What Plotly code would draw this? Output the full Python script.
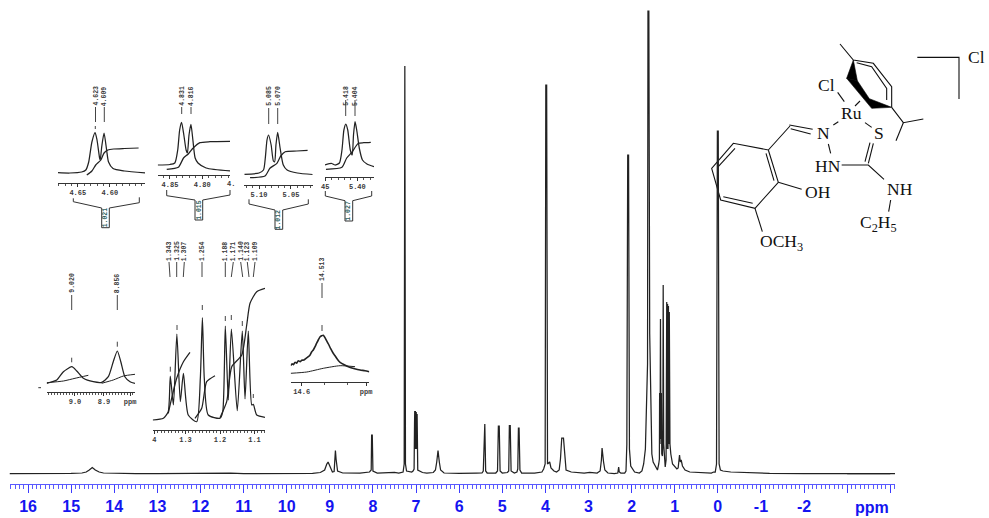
import plotly.graph_objects as go

# ---------- main spectrum (ppm, intensity) ----------
spec_ppm = [16.43,15.5,15.0,14.75,14.65,14.58,14.51,14.44,14.35,14.25,14.0,13.5,13.0,12.5,12.0,11.3,11.0,10.5,10.0,9.4,
 9.22,9.12,9.07,9.04,8.99,8.94,8.90,8.885,8.87,8.855,8.82,8.7,8.3,8.08,8.04,8.03,8.015,8.0,7.9,7.5,7.4,7.3,7.275,7.26,7.245,7.22,7.1,
 7.07,7.045,7.035,7.03,7.022,7.015,7.005,6.995,6.985,6.975,6.96,6.85,6.75,6.6,6.55,6.52,6.49,6.46,6.43,6.35,6.0,5.6,5.47,5.44,5.42,5.405,5.385,5.35,
 5.15,5.11,5.09,5.07,5.05,5.0,4.88,4.85,4.835,4.815,4.795,4.72,4.66,4.64,4.625,4.61,4.59,4.55,4.25,4.08,4.04,4.005,3.99,3.97,3.95,3.90,3.87,3.8,3.74,
 3.68,3.65,3.62,3.58,3.55,3.52,3.4,3.1,2.97,2.8,2.73,2.70,2.685,2.67,2.65,2.62,2.55,2.4,2.32,2.30,2.285,2.25,2.16,2.13,2.11,2.09,2.07,2.05,2.02,1.93,
 1.82,1.76,1.72,1.68,1.63,1.62,1.60,1.58,1.55,1.53,1.5,1.42,1.40,1.37,1.355,1.35,1.34,1.33,1.32,1.31,1.30,1.285,1.275,1.267,1.255,1.24,1.22,1.20,
 1.19,1.185,1.175,1.165,1.155,1.145,1.135,1.125,1.11,1.09,1.05,1.0,0.95,0.92,0.90,0.888,0.87,0.85,0.82,0.76,0.65,0.4,0.15,0.1,0.06,0.03,0.01,-0.01,
 -0.03,-0.06,-0.12,-0.3,-0.6,-1.2,-2.0,-3.0,-4.11]
spec_int = [10.5,10.3,10.7,11,12,14,16.5,14,12,11,10.6,10.4,10.5,10.7,10.4,10.8,10.4,10.5,10.4,10.6,
 11.5,14,20,22,17,12,12.5,25,33.5,25,13,11,10.8,12,14,49,49,13,11,11.5,11,12,20,418,20,13,12,
 13,15,60,73,35,73,35,72,35,70,14,11.5,11,11.5,14,22,33.5,22,14,11,10.6,10.9,11,13,60,60,13,11,
 11,13,58,58,13,11,11.5,13,58.5,58.5,13,11,12,15,56,56,14,11,11,12,15,20,399,399,20,22,16,13,12,
 14,25,46,46,25,14,12,11,11.5,11,13,24,36,28,22,14,11,10.5,11,17,12,11,11,13,40,329,329,35,18,12,
 11,13,20,35,120,473,473,150,60,30,22,16,14,20,25,91,40,165,45,91,30,28,40,199,40,22,17,24,
 120,182,35,180,35,178,40,172,40,30,20,18,15,16,22,29,22,24,18,14,12,11.5,11,12,12,20,353,353,
 20,14,13,12,11.5,10.6,10.5,10.5,10.5]

tick_values = [16,15,14,13,12,11,10,9,8,7,6,5,4,3,2,1,0,-1,-2]
tick_labels = ["16","15","14","13","12","11","10","9","8","7","6","5","4","3","2","1","0","-1","-2"]
unlabelled_ticks = [-3,-4]

# ---------- insets: curve and integral in ppm / intensity ----------
i1_ppm = [4.681,4.6625,4.644,4.6375,4.633,4.628,4.623,4.620,4.616,4.615,4.6125,4.609,4.605,4.602,4.595,4.577,4.545]
i1_int = [10.3,10,11,13,21,41,50.3,43,25,23,37,50,33,21,14.5,12,10]
i1_int_ppm = [4.636,4.628,4.622,4.614,4.609,4.603,4.594,4.577,4.555]
i1_int_val = [8,12,18,23,30,33,34,34.5,35]

i2_ppm = [4.869,4.85,4.8425,4.838,4.835,4.832,4.8285,4.825,4.823,4.8205,4.8175,4.8145,4.811,4.8066,4.794,4.757]
i2_int = [10,10.5,12,25,45,52.7,40,25,22,40,50.7,35,17,12,7,4]
i2_int_ppm = [4.855,4.837,4.829,4.8217,4.814,4.8036,4.788,4.757]
i2_int_val = [5.7,7.7,17,21,27,32.3,33.3,33.7]

i3_ppm = [5.123,5.10,5.093,5.09,5.0875,5.085,5.081,5.0775,5.0755,5.0735,5.0708,5.067,5.062,5.056,5.04,5.016]
i3_int = [10.4,11.7,14.7,27.7,44.7,49.7,39.7,23.7,23,39.7,52.4,36.7,19.7,14.7,11.7,10.2]
i3_int_ppm = [5.114,5.0906,5.083,5.072,5.066,5.059,5.041,5.024]
i3_int_val = [7,8.7,16.4,21.4,28.7,33,33.7,34.4]

i4_ppm = [5.4505,5.44,5.435,5.428,5.424,5.421,5.418,5.415,5.411,5.408,5.406,5.4036,5.401,5.397,5.392,5.385,5.374]
i4_int = [11.7,13.2,11.7,13.7,26.7,46.7,52.7,46.7,26.7,21.7,41.7,55,46.7,28.7,16.7,12.7,10]
i4_int_ppm = [5.449,5.424,5.4166,5.409,5.3985,5.39,5.379]
i4_int_val = [7.4,9.4,18.7,24,33.4,34,34.4]

i5_ppm = [9.0976,9.063,9.04,9.011,8.994,8.971,8.937,8.908,8.885,8.868,8.854,8.842,8.828,8.81,8.793]
i5_int = [8.4,11.7,20,25,20.7,13.4,10,9.4,15,30,40.7,30,15,10,8.4]
i5_a_ppm = [9.0976,9.04,9.0,8.954]
i5_a_val = [9,10.7,13.4,16.4]
i5_b_ppm = [8.908,8.868,8.833,8.793]
i5_b_val = [8.4,11.7,15.7,17.4]

i6_ppm = [1.395,1.364,1.35,1.344,1.335,1.325,1.315,1.306,1.292,1.2675,1.257,1.251,1.2455,1.234,1.2,1.192,1.1846,1.176,1.167,1.15,1.1354,1.1275,1.118,1.108,1.1035,1.0936,1.0696]
i6_int = [10,11.7,18.3,54,25,96,28.3,56.7,15,8.3,51.7,112.3,51.7,15,11.7,18.3,104,30,101,19.3,99,31,99,25,25.7,15,12.7]
i6_a_ppm = [1.35,1.3255,1.306,1.287]
i6_a_val = [16.7,51.7,68.3,77.7]
i6_b_ppm = [1.2725,1.253,1.2386,1.2145]
i6_b_val = [11.7,21.7,48.3,54.3]
i6_c_ppm = [1.2,1.1806,1.166,1.137,1.1226,1.113,1.0936,1.0696]
i6_c_val = [12.3,28.3,63.3,75,105,126.7,138.3,141.7]

i7_ppm = [14.648,14.642,14.636,14.629,14.622,14.615,14.607,14.60,14.59,14.58,14.571,14.563,14.5565,14.549,14.542,14.535,14.528,14.52,14.513,14.506,14.499,14.492,14.484,14.474,14.463,14.455,14.448,14.44,14.433,14.415,14.397,14.37,14.346,14.325,14.306]
i7_int = [16,18,17,19.5,18.5,21,20,21.5,21.7,23.5,25,27,30,32,35,38.5,41.7,45,46,46.5,44,41,37.7,33,28.4,26,23.4,21,19.4,17,15,13,11.7,11,10]
i7_a_ppm = [14.648,14.578,14.506,14.433,14.368]
i7_a_val = [8.4,9.7,13.4,16,15]

INK = "#222222"
TXT = "#3a3a3a"
BLUE = "#1414f0"

fig = go.Figure()
layout = dict(
    width=989, height=518, margin=dict(l=0, r=0, t=0, b=0, autoexpand=False), showlegend=False,
    paper_bgcolor="white", plot_bgcolor="rgba(0,0,0,0)",
    xaxis=dict(domain=[0,1], range=[0,989], visible=False, fixedrange=True, automargin=False),
    yaxis=dict(domain=[0,1], range=[518,0], visible=False, fixedrange=True, automargin=False),
)
ann = []

def px_line(xs, ys, color=INK, w=1.0, fill=None):
    fig.add_trace(go.Scatter(x=xs, y=ys, mode="lines", xaxis="x", yaxis="y", hoverinfo="skip",
                             line=dict(color=color, width=w),
                             fill="toself" if fill else None, fillcolor=fill))

def note(x, y, text, size=18, family="Liberation Serif", color="#111111", angle=0, bold=False):
    t = f"<b>{text}</b>" if bold else text
    ann.append(dict(x=x, y=y, xref="x", yref="y", text=t, showarrow=False, textangle=angle,
                    font=dict(size=size, family=family, color=color), xanchor="center", yanchor="middle"))

# ---------- main axis ----------
fig.add_trace(go.Scatter(x=spec_ppm, y=spec_int, mode="lines", xaxis="x2", yaxis="y2",
                         line=dict(color=INK, width=1.25), hoverinfo="skip"))
main_dom = [9.5/989, 895/989]
layout["xaxis2"] = dict(domain=main_dom, range=[16.43,-4.11], anchor="y2", fixedrange=True,
    showline=True, linecolor="#5a5aff", linewidth=1, showgrid=False, zeroline=False,
    tickmode="array", tickvals=tick_values, ticktext=tick_labels, ticks="outside", ticklen=8, tickcolor="#3c3cff", tickwidth=1,
    tickfont=dict(family="Liberation Sans", size=16, color=BLUE, weight="bold"), ticklabelstandoff=0,
    minor=dict(dtick=0.1, ticks="outside", ticklen=4, tickcolor="#5a5aff", tickwidth=1, showgrid=False))
layout["yaxis2"] = dict(domain=[(518-484)/518, 1], range=[0,484], visible=False, fixedrange=True, anchor="x2")
layout["xaxis10"] = dict(domain=main_dom, range=[16.43,-4.11], anchor="y2", overlaying="x2", fixedrange=True,
    showline=False, showgrid=False, zeroline=False, showticklabels=False,
    tickmode="array", tickvals=unlabelled_ticks, ticks="outside", ticklen=8, tickcolor="#3c3cff", tickwidth=1)
fig.add_trace(go.Scatter(x=unlabelled_ticks, y=[10.5,10.5], mode="lines", xaxis="x10", yaxis="y2",
                         line=dict(color=INK, width=1.25), hoverinfo="skip"))
note(872, 507, "ppm", size=16, family="Liberation Sans", color=BLUE, bold=True)

# ---------- inset helper ----------
def inset(n, left, right, axis_y, height, rng, traces, vals, labels, minor):
    xa, ya = f"x{n}", f"y{n}"
    for xs, ys, w in traces:
        fig.add_trace(go.Scatter(x=xs, y=ys, mode="lines", xaxis=xa, yaxis=ya, hoverinfo="skip",
                                 line=dict(color=INK, width=w, shape="spline", smoothing=0.6)))
    layout[f"xaxis{n}"] = dict(domain=[left/989, right/989], range=rng, anchor=ya, fixedrange=True,
        showline=True, linecolor="#333333", linewidth=1, showgrid=False, zeroline=False,
        tickmode="array", tickvals=vals, ticktext=labels, ticks="outside", ticklen=3, tickcolor="#333333", tickwidth=1,
        tickfont=dict(family="Liberation Mono", size=7, color=TXT, weight="bold"), ticklabelstandoff=0,
        minor=dict(dtick=minor, ticks="outside", ticklen=2, tickcolor="#555555", tickwidth=1, showgrid=False))
    layout[f"yaxis{n}"] = dict(domain=[(518-axis_y)/518, (518-axis_y+height)/518], range=[0,height],
                               visible=False, fixedrange=True, anchor=xa)

W = 1.25
inset(3, 58, 145, 183, 70, [4.681,4.545], [(i1_ppm,i1_int,W),(i1_int_ppm,i1_int_val,W)], [4.65,4.60], ["4.65","4.60"], 0.01)
inset(4, 157.7, 230, 175, 70, [4.869,4.757], [(i2_ppm,i2_int,W),(i2_int_ppm,i2_int_val,W)], [4.85,4.80], ["4.85","4.80"], 0.01)
inset(5, 244.3, 312.7, 184.7, 70, [5.123,5.016], [(i3_ppm,i3_int,W),(i3_int_ppm,i3_int_val,W)], [5.10,5.05], ["5.10","5.05"], 0.01)
inset(6, 325, 374, 176.7, 70, [5.4505,5.374], [(i4_ppm,i4_int,W),(i4_int_ppm,i4_int_val,W)], [5.45,5.40], ["45","5.40"], 0.01)
inset(7, 46.7, 135, 391.7, 60, [9.0976,8.793], [(i5_ppm,i5_int,W),(i5_a_ppm,i5_a_val,1.0),(i5_b_ppm,i5_b_val,1.0)], [9.0,8.9,8.81], ["9.0","8.9","ppm"], 0.01)
inset(8, 152.7, 265, 430, 160, [1.395,1.0696], [(i6_ppm,i6_int,W),(i6_a_ppm,i6_a_val,W),(i6_b_ppm,i6_b_val,W),(i6_c_ppm,i6_c_val,W)], [1.39,1.3,1.2,1.1], ["4","1.3","1.2","1.1"], 0.01)
inset(9, 290.7, 369.3, 381.7, 60, [14.648,14.306], [(i7_ppm,i7_int,1.6),(i7_a_ppm,i7_a_val,1.0)], [14.6,14.32], ["14.6","ppm"], 0.1)
note(231, 184, "4.", size=7, family="Liberation Mono", color=TXT, bold=True)

# ---------- peak labels and leaders ----------
peak_text = ["4.623","4.609","4.831","4.816","5.085","5.070","5.418","5.404","9.020","8.856","14.513",
             "1.343","1.325","1.307","1.254","1.188","1.171","1.140","1.123","1.109"]
peak_x    = [95.5,104.3,181.7,191,268.7,277.7,345.7,355,71.7,117.3,322,169,176.7,184.3,202,225.3,233.3,240.7,247.3,255]
peak_xb   = [95.5,104.3,181.7,191,268.7,277.7,345.7,355,71.7,117.3,322,170,176.7,183.3,202,225.3,231.3,242.7,249,253.3]
peak_ty   = [96,96,96,96,96,96,96,96,283,283,269,251,251,251,251,251,251,251,251,251]
peak_l0   = [107,107,107,107,108,108,100,100,295,295,283,262,262,262,262,262,262,262,262,262]
peak_l1   = [122,122,114,114,124,124,116,116,310,310,298,277,277,277,277,277,277,277,277,277]
for t,x,xb,ty,a,b in zip(peak_text,peak_x,peak_xb,peak_ty,peak_l0,peak_l1):
    note(x, ty, t, size=6.5, family="Liberation Mono", color=TXT, angle=-90, bold=True)
    px_line([x,xb],[a,b], color="#444444", w=1)

# small ticks above peaks
mark_x  = [95.3,71.7,117.3,322,170.3,177,202.3,225.3,231.3,242.3,253.3]
mark_y0 = [126,357.7,341.7,325,366.7,325,305,316,315,321,394]
mark_y1 = [129,362.3,346.7,331,371.7,330,310,321,320,326,398]
for x,a,b in zip(mark_x,mark_y0,mark_y1):
    px_line([x,x],[a,b], color="#444444", w=1)
px_line([38.3,41],[387.7,387.7], color="#333333", w=1)

# ---------- integral brackets ----------
br_text = ["1.021","1.015","1.012","1.027"]
br = [(73.3,198.3,201.7,101.7,208,227.7,109.3,139.3,197.3,202.7),
      (166.7,190,195.7,195,200,220,202.7,230,190,195),
      (249,199.3,204,275,210,229.3,282.7,308.3,199.3,204),
      (325.3,191,196,345,200.7,221,352.7,371.7,191,196)]
for t,(xl,yt,yb,xi,ym,ye,xr,xo,ytr,ybr) in zip(br_text,br):
    px_line([xl,xl,xi,xi,xr],[yt,yb,ym,ye,ye], color="#333333", w=1)
    px_line([xr,xr,xo,xo],[ye,ym,ybr,ytr], color="#333333", w=1)
    note((xi+xr)/2, (ym+ye)/2, t, size=6.5, family="Liberation Mono", color="#2f5f5f", angle=-90, bold=True)

# ---------- chemical structure (image pixels) ----------
def Z(pts):
    return [p[0]/3+700 for p in pts], [p[1]/3+20 for p in pts]

bonds = [
 [(270,318),(205,390),(100,370),(35,445),(62,540),(165,565),(235,487),(205,390)],
 [(105,385),(52,443)], [(70,530),(158,550)], [(198,400),(222,482)],
 [(268,315),(338,328)], [(272,326),(332,342)],
 [(385,372),(392,400)], [(425,435),(505,435),(552,478)],
 [(505,430),(520,370)], [(495,425),(510,368)],
 [(572,540),(566,575)], [(235,487),(305,508)], [(165,565),(187,635)],
 [(413,217),(433,245)], [(400,315),(415,305)], [(495,308),(515,322)], [(465,258),(480,243)],
 [(420,72),(460,120),(520,130),(575,200),(575,262)],
 [(470,128),(515,140),(560,205),(560,240)],
 [(575,262),(610,308),(670,297)], [(610,308),(588,362)],
 [(652,112),(777,112),(777,237)],
]
for b in bonds:
    xs, ys = Z(b)
    px_line(xs, ys, color="#111111", w=1.1)
for poly in ([(460,120),(440,175),(472,182),(460,120)],
             [(440,175),(515,265),(575,262),(508,236),(472,182),(440,175)]):
    xs, ys = Z(poly)
    px_line(xs, ys, color="#000000", w=0.6, fill="#000000")

struct_text = [("Cl",378,195),("Ru",453,280),("N",370,340),("S",537,340),("HN",383,437),("NH",600,508),
               ("OH",355,515),("OCH<sub>3</sub>",243,668),("C<sub>2</sub>H<sub>5</sub>",535,610),("Cl",828,110)]
for t,zx,zy in struct_text:
    note(zx/3+700, zy/3+20, t, size=17.5)

layout["annotations"] = ann
fig.update_layout(**layout)
fig.write_html("out.html", config={"displayModeBar": False}, post_script="document.body.style.margin='0';")
